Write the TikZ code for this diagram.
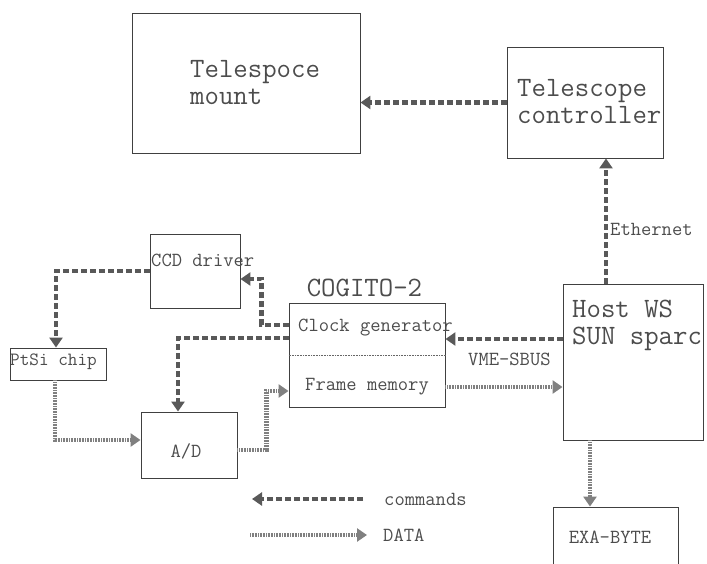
\documentclass[tikz,border=0pt]{standalone}
\usetikzlibrary{arrows.meta,positioning}
\tikzset{
  >={Triangle[length=10pt,width=13pt]},
  box/.style={draw=black!75, line width=0.9pt, inner sep=0pt},
  bigtxt/.style={font=\ttfamily\fontsize{28}{27}\selectfont, text=black!70, align=left, inner sep=0pt},
  smalltxt/.style={font=\ttfamily\fontsize{20}{20}\selectfont, text=black!70, align=left, inner sep=0pt},
  cmd/.style={draw=black!65, line width=4.2pt, dash pattern=on 6pt off 3pt, ->},
  dat/.style={draw=black!50, line width=4.2pt, dash pattern=on 0.9pt off 0.7pt, ->},
}
\begin{document}
\begin{tikzpicture}[x=1pt, y=-1pt]
  \useasboundingbox (0,0) rectangle (707,563);
  \clip (0,0) rectangle (707,563);

  % boxes
  \node[box, minimum width=228, minimum height=140] (mount) at (246,83) {};
  \node[box, minimum width=156, minimum height=111] (ctrl) at (585,102.5) {};
  \node[box, minimum width=140, minimum height=156] (host) at (633,362) {};
  \node[box, minimum width=90, minimum height=74] (ccd) at (195,271) {};
  \node[box, minimum width=156, minimum height=104] (cogito) at (367,355) {};
  \node[box, minimum width=96, minimum height=32] (ptsi) at (58,364) {};
  \node[box, minimum width=96, minimum height=66] (ad) at (189,445) {};
  \node[box, minimum width=125, minimum height=64] (exa) at (615.5,539) {};

  % texts
  \node[bigtxt, anchor=west] (mounttxt) at (190,82.5) {Telespoce\\mount};
  \node[bigtxt, anchor=west] (ctrltxt) at (517,102) {Telescope\\controller};
  \node[bigtxt, anchor=west] (hosttxt) at (572,325) {Host WS\\SUN sparc};
  \node[bigtxt, above right=6pt and 18pt of cogito.north west] (cogitotxt) {COGITO-2};
  \node[smalltxt, anchor=west] (clocktxt) at (298,328) {Clock generator};
  \node[smalltxt, anchor=west] (frametxt) at (305,387) {Frame memory};
  \node[smalltxt, anchor=west] (ccdtxt) at (151,260) {CCD driver};
  \node[smalltxt, anchor=west, font=\ttfamily\fontsize{18.7}{19}\selectfont] (ptsitxt) at (10,362) {PtSi chip};
  \node[smalltxt] (adtxt) at (186,451) {A/D};
  \node[smalltxt] (exatxt) at (610,537) {EXA-BYTE};
  \node[smalltxt, anchor=west] (vmetxt) at (468,359) {VME-SBUS};
  \node[smalltxt, anchor=west] (ethtxt) at (610,229) {Ethernet};

  \draw[densely dotted, black!60, line width=0.6pt] (cogito.west) -- (cogito.east);

  % commands
  \draw[cmd] (ctrl.west) -- (ctrl.west -| mount.east);
  \draw[cmd] ([xshift=-27pt]host.north) -- ([xshift=-27pt]host.north |- ctrl.south);
  \draw[cmd] ([yshift=23pt]host.west) -- ([yshift=23pt]host.west -| cogito.east);
  \draw[cmd] ([yshift=30pt]cogito.west) -- ++(-27,0) |- ([yshift=-8pt]ccd.east);
  \draw[cmd] ([yshift=17pt]cogito.west) -| ([xshift=-11pt]ad.north);
  \draw[cmd] (ccd.west) -| ([xshift=-2pt]ptsi.north);

  % data
  \draw[dat] ([xshift=-3pt]ptsi.south) |- ([yshift=5pt]ad.west);
  \draw[dat] ([yshift=-5pt]ad.east) -- ++(29,0) |- ([yshift=-36pt]cogito.west);
  \draw[dat] ([yshift=-32pt]cogito.east) -- ([yshift=-32pt]cogito.east -| host.west);
  \draw[dat] ([xshift=-43pt]host.south) -- ([xshift=-43pt]host.south |- exa.north);

  % legend
  \node[smalltxt, anchor=west] (cmdlbl) at (384,499) {commands};
  \node[smalltxt, anchor=west] (datlbl) at (383,535) {DATA};
  \coordinate (cmdA) at (363,499);
  \coordinate (cmdB) at (252,499);
  \coordinate (datA) at (250,535);
  \coordinate (datB) at (367,535);
  \draw[cmd] (cmdA) -- (cmdB);
  \draw[dat] (datA) -- (datB);
\end{tikzpicture}
\end{document}
